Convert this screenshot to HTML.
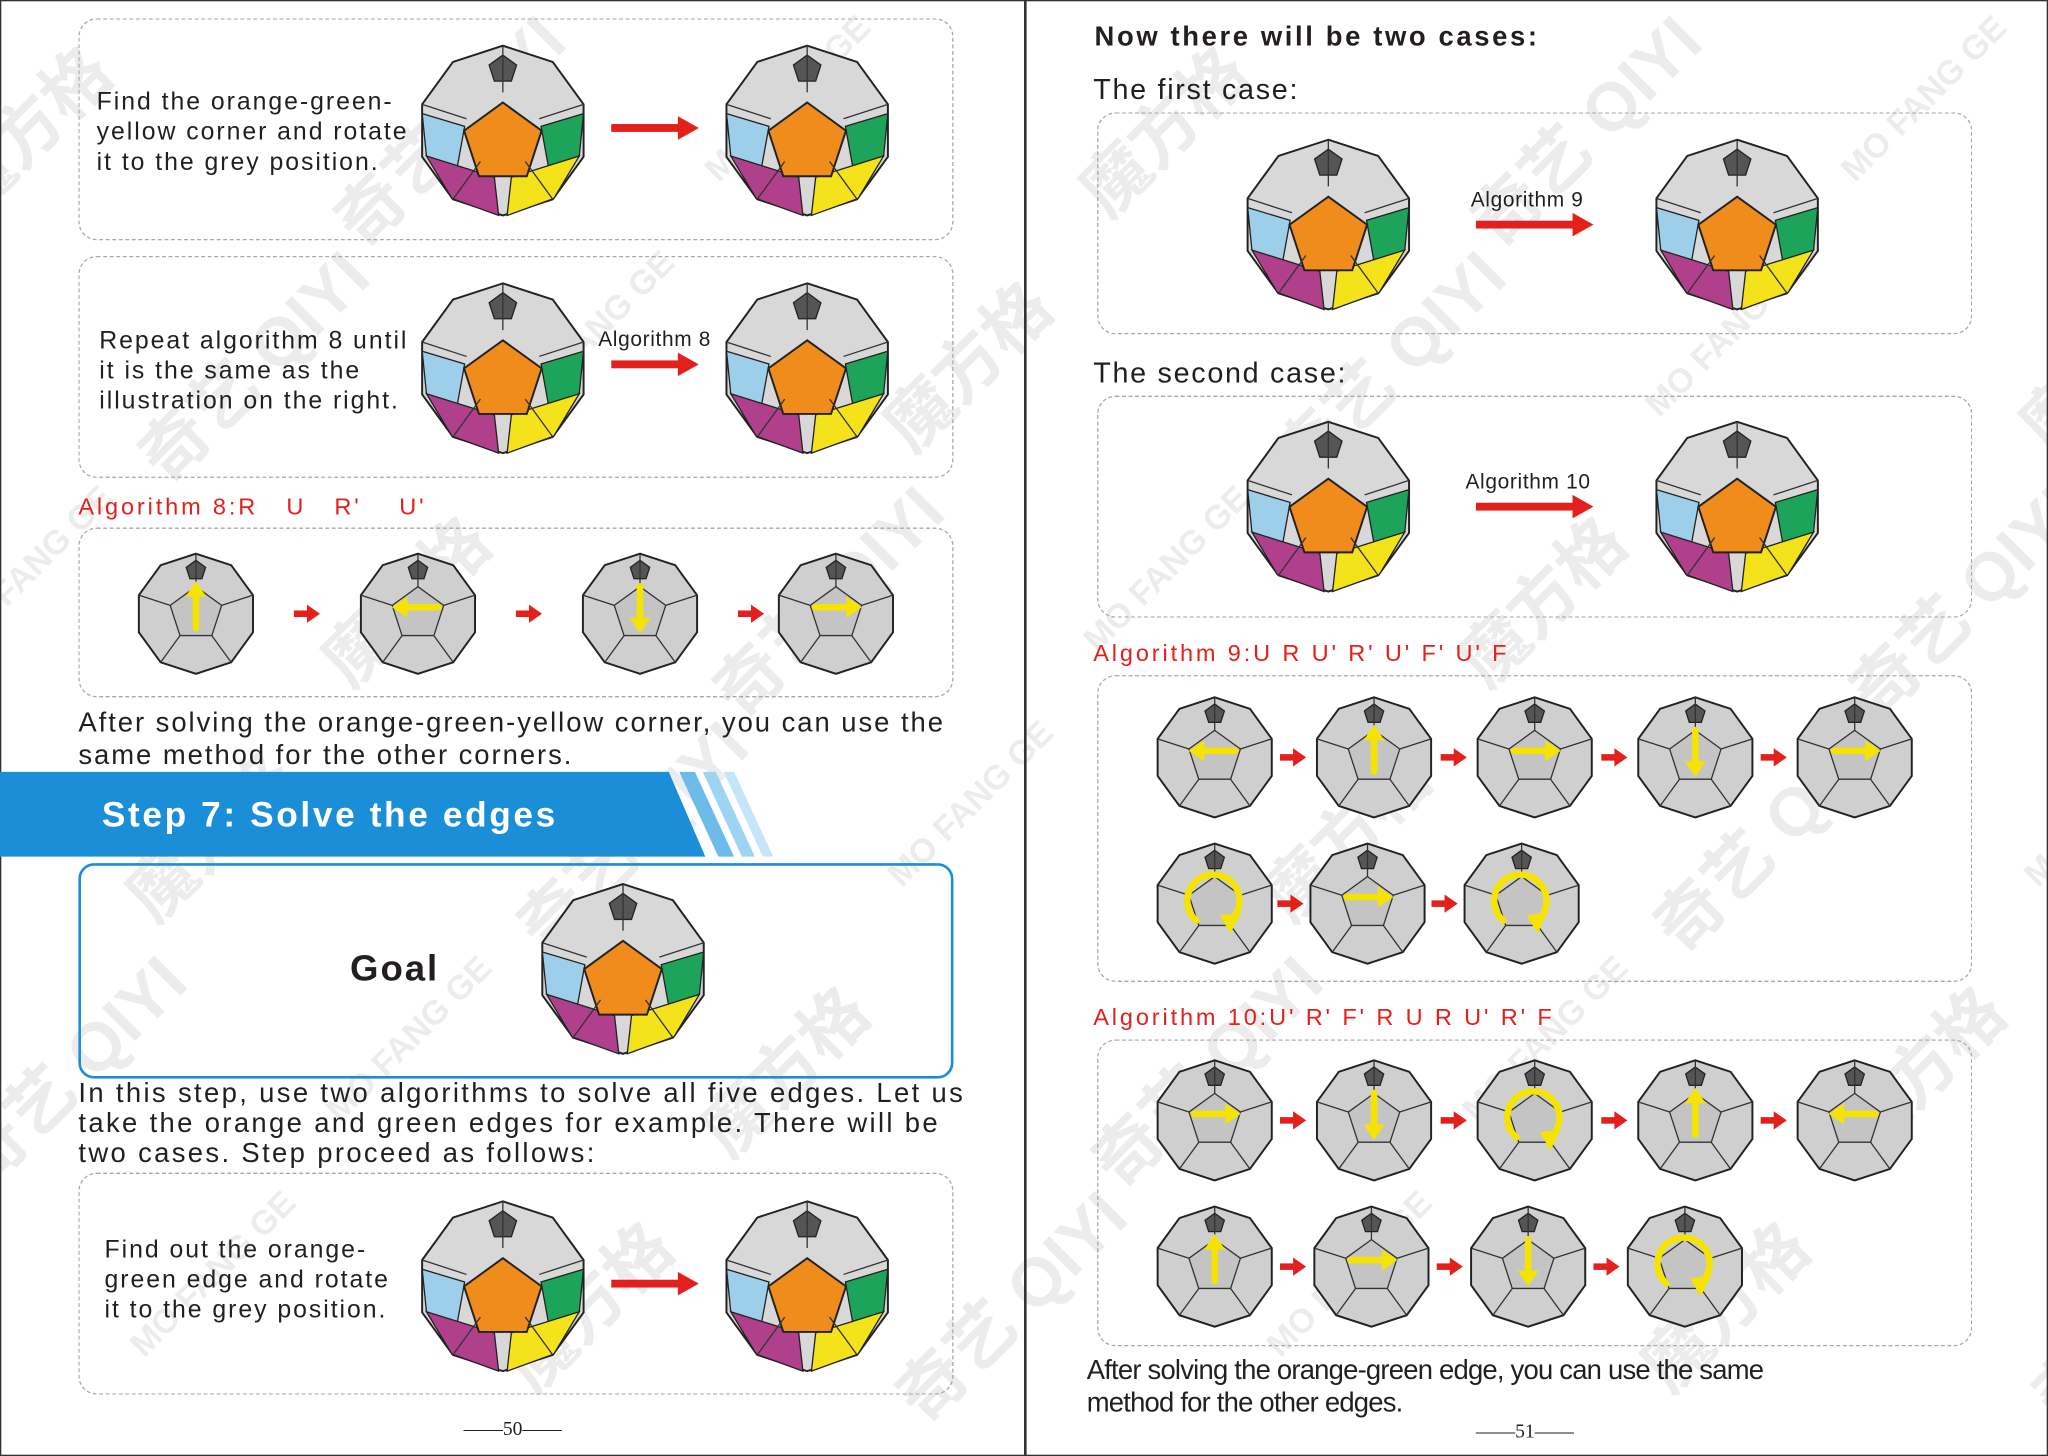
<!DOCTYPE html>
<html><head><meta charset="utf-8">
<style>
html,body{margin:0;padding:0;background:#fff;overflow:hidden;}
#wrap{width:2048px;height:1456px;overflow:hidden;position:relative;}
#page{position:absolute;left:0;top:0;width:1568px;height:1115px;overflow:hidden;transform:scale(1.30612,1.30583);transform-origin:0 0;font-family:"Liberation Sans",Arial,sans-serif;color:#231f20;}
.box{position:absolute;border:1.5px dashed #a8a8a8;border-radius:14px;box-sizing:border-box;}
.t{position:absolute;font-size:19px;line-height:23px;white-space:nowrap;letter-spacing:1.5px;}
.red{color:#e3201b;font-size:18px;letter-spacing:2.2px;}
#wms{position:absolute;left:0;top:0;width:1568px;height:1115px;overflow:hidden;}
.wm{position:absolute;color:rgba(150,150,150,0.18);font-weight:bold;white-space:nowrap;transform:rotate(-45deg);font-family:"Liberation Sans","Noto Sans CJK SC",sans-serif;}
</style></head><body>
<div id="wrap"><div id="page">
<div id="wms"></div>
<div style="position:absolute;left:0;top:0;width:1566px;height:1113px;border:1px solid #333;"></div>
<div style="position:absolute;left:784px;top:0;width:1.5px;height:1115px;background:#333;"></div>

<div class="box" style="left:60px;top:14px;width:670px;height:170px;"></div>
<div class="t" style="left:74px;top:67px;">Find the orange-green-<br>yellow corner and rotate<br>it to the grey position.</div>
<div class="box" style="left:60px;top:196px;width:670px;height:170px;"></div>
<div class="t" style="left:76px;top:250px;">Repeat algorithm 8 until<br>it is the same as the<br>illustration on the right.</div>
<div class="t" style="left:458px;top:249px;font-size:16px;letter-spacing:0.5px;">Algorithm 8</div>
<div class="t red" style="left:60px;top:377px;">Algorithm 8:R&nbsp;&nbsp;&nbsp;U&nbsp;&nbsp;&nbsp;R'&nbsp;&nbsp;&nbsp;&nbsp;U'</div>
<div class="box" style="left:60px;top:404px;width:670px;height:130px;"></div>
<div class="t" style="left:60px;top:541px;font-size:21px;line-height:25px;">After solving the orange-green-yellow corner, you can use the<br>same method for the other corners.</div>

<svg style="position:absolute;left:0;top:591px" width="600" height="66">
<polygon points="0,0 512,0 540,65 0,65" fill="#1a8fd8"/>
<polygon points="520,0 532,0 562,65 550,65" fill="#6cbbe9"/>
<polygon points="538,0 548,0 578,65 568,65" fill="#9fd3f2"/>
<polygon points="554,0 562,0 592,65 584,65" fill="#c6e5f8"/>
</svg>
<div class="t" style="left:78px;top:609px;font-size:27px;line-height:30px;color:#fff;font-weight:bold;letter-spacing:2px;">Step 7: Solve the edges</div>
<div style="position:absolute;left:60px;top:661px;width:670px;height:165px;border:2px solid #1a8fd8;border-radius:12px;box-sizing:border-box;"></div>
<div class="t" style="left:268px;top:727px;font-size:28px;line-height:30px;font-weight:bold;">Goal</div>
<div class="t" style="left:60px;top:826px;font-size:21px;line-height:23px;letter-spacing:1.8px;">In this step, use two algorithms to solve all five edges. Let us<br>take the orange and green edges for example. There will be<br>two cases. Step proceed as follows:</div>
<div class="box" style="left:60px;top:898px;width:670px;height:170px;"></div>
<div class="t" style="left:80px;top:946px;">Find out the orange-<br>green edge and rotate<br>it to the grey position.</div>
<div class="t" style="left:355px;top:1084px;font-size:15px;font-family:'Liberation Serif',serif;letter-spacing:0;">——50——</div>

<div class="t" style="left:838px;top:17px;font-size:21px;font-weight:bold;letter-spacing:2px;">Now there will be two cases:</div>
<div class="t" style="left:837px;top:57px;font-size:22px;letter-spacing:1.3px;">The first case:</div>
<div class="box" style="left:840px;top:86px;width:670px;height:170px;"></div>
<div class="t" style="left:1126px;top:142px;font-size:16px;letter-spacing:0.5px;">Algorithm 9</div>
<div class="t" style="left:837px;top:274px;font-size:22px;letter-spacing:1.3px;">The second case:</div>
<div class="box" style="left:840px;top:303px;width:670px;height:170px;"></div>
<div class="t" style="left:1122px;top:358px;font-size:16px;letter-spacing:0.5px;">Algorithm 10</div>
<div class="t red" style="left:837px;top:489px;">Algorithm 9:U R U' R' U' F' U' F</div>
<div class="box" style="left:840px;top:517px;width:670px;height:235px;"></div>
<div class="t red" style="left:837px;top:768px;">Algorithm 10:U' R' F' R U R U' R' F</div>
<div class="box" style="left:840px;top:796px;width:670px;height:235px;"></div>
<div class="t" style="left:832px;top:1037px;font-size:21px;line-height:25px;letter-spacing:-0.6px;">After solving the orange-green edge, you can use the same<br>method for the other edges.</div>
<div class="t" style="left:1130px;top:1086px;font-size:15px;font-family:'Liberation Serif',serif;letter-spacing:0;">——51——</div>

<svg id="art" style="position:absolute;left:0;top:0" width="1568" height="1115"></svg>
</div></div>
<script>
const colorCubes=[[385,100],[618,100],[385,282],[618,282],[477,742],[385,985],[618,985],[1017,172],[1330,172],[1017,388],[1330,388]];
const grayCubes=[[150,470,'u'],[320,470,'l'],[490,470,'d'],[640,470,'r'],
[930,580,'l'],[1052,580,'u'],[1175,580,'r'],[1298,580,'d'],[1420,580,'r'],
[930,692,'c'],[1047,692,'r'],[1165,692,'c'],
[930,858,'r'],[1052,858,'d'],[1175,858,'c'],[1298,858,'u'],[1420,858,'l'],
[930,970,'u'],[1050,970,'r'],[1170,970,'d'],[1290,970,'c']];
const bigArrows=[[468,535,98],[468,535,279],[468,535,983],[1130,1220,172],[1130,1220,388]];
const smallArrows=[[235,470],[405,470],[575,470],[990,580],[1113,580],[1236,580],[1358,580],[988,692],[1106,692],[990,858],[1113,858],[1236,858],[1358,858],[990,970],[1110,970],[1230,970]];
const svg=document.getElementById('art');const NS='http://www.w3.org/2000/svg';
function el(t,a,p){const e=document.createElementNS(NS,t);for(const k in a)e.setAttribute(k,a[k]);(p||svg).appendChild(e);return e;}
function pts(cx,cy,r,n,rot){let s=[];for(let i=0;i<n;i++){const a=rot+i*2*Math.PI/n;s.push((cx+r*Math.cos(a)).toFixed(1)+','+(cy+r*Math.sin(a)).toFixed(1));}return s.join(' ');}
function cube(x,y,r,colored,name){
  const g=el('g',{});
  
  
  el('polygon',{points:pts(x,y,r,10,-Math.PI/2),fill:colored?'#d8d8d8':'#cfcfcf',stroke:'#222','stroke-width':1.5},g);
  if(colored){
    el('polygon',{points:`${x-r*0.95},${y-r*0.2} ${x-r*0.45},${y-r*0.05} ${x-r*0.55},${y+r*0.5} ${x-r*0.9},${y+r*0.3}`,fill:'#9dcfea',stroke:'#222'},g);
    el('polygon',{points:`${x+r*0.95},${y-r*0.2} ${x+r*0.45},${y-r*0.05} ${x+r*0.55},${y+r*0.5} ${x+r*0.9},${y+r*0.3}`,fill:'#1ea35a',stroke:'#222'},g);
    el('polygon',{points:`${x-r*0.9},${y+r*0.3} ${x-r*0.1},${y+r*0.55} ${x-r*0.05},${y+r} ${x-r*0.6},${y+r*0.8}`,fill:'#b0408c',stroke:'#222'},g);
    el('polygon',{points:`${x+r*0.9},${y+r*0.3} ${x+r*0.1},${y+r*0.55} ${x+r*0.05},${y+r} ${x+r*0.6},${y+r*0.8}`,fill:'#f4e21a',stroke:'#222'},g);
    el('polygon',{points:pts(x,y+r*0.15,r*0.48,5,-Math.PI/2),fill:'#f08c1c',stroke:'#222','stroke-width':1.5},g);
  } else {
    el('polygon',{points:pts(x,y,r*0.45,5,-Math.PI/2),fill:'#c4c4c4',stroke:'#333'},g);
  }
  el('polygon',{points:pts(x,y-r*0.72,r*0.17,5,-Math.PI/2),fill:'#555',stroke:'#222'},g);
  for(let i=0;i<5;i++){const a=-Math.PI/2+i*2*Math.PI/5;el('line',{x1:x+r*0.45*Math.cos(a),y1:y+r*0.45*Math.sin(a),x2:x+r*Math.cos(a),y2:y+r*Math.sin(a),stroke:'#333','stroke-width':1},g);}
  return g;
}
colorCubes.forEach((c,i)=>cube(c[0],c[1],65,true,'megaminx-'+i));
grayCubes.forEach((c,i)=>{
  const g=cube(c[0],c[1],46,false,'move-step-'+i);
  const x=c[0],y=c[1]-5,st={stroke:'#f5e400','stroke-width':5,fill:'none','stroke-linecap':'round'};
  if(c[2]=='c'){el('path',Object.assign({d:`M${x-14},${y+18} A20,20 0 1 1 ${x+12},${y+18}`},st),g);el('polygon',{points:`${x+4},${y+14} ${x+20},${y+12} ${x+12},${y+28}`,fill:'#f5e400'},g);}
  else{const d={u:[0,-1],d:[0,1],l:[-1,0],r:[1,0]}[c[2]];
    el('line',Object.assign({x1:x-d[0]*16,y1:y-d[1]*16,x2:x+d[0]*10,y2:y+d[1]*10},st),g);
    const tx=x+d[0]*20,ty=y+d[1]*20;
    el('polygon',{points:`${tx},${ty} ${tx-d[0]*12-d[1]*8},${ty-d[1]*12-d[0]*8} ${tx-d[0]*12+d[1]*8},${ty-d[1]*12+d[0]*8}`,fill:'#f5e400'},g);}
});
bigArrows.forEach((a,i)=>{const g=el('g',{});
  el('rect',{x:a[0],y:a[2]-3,width:a[1]-a[0]-14,height:6,fill:'#e3201b'},g);el('polygon',{points:`${a[1]-16},${a[2]-9} ${a[1]},${a[2]} ${a[1]-16},${a[2]+9}`,fill:'#e3201b'},g);});
smallArrows.forEach(a=>{const g=el('g',{});
  el('rect',{x:a[0]-10,y:a[1]-2.5,width:12,height:5,fill:'#e3201b'},g);el('polygon',{points:`${a[0]},${a[1]-7} ${a[0]+10},${a[1]} ${a[0]},${a[1]+7}`,fill:'#e3201b'},g);});
const wmText=['魔方格','奇艺 QIYI','MO FANG GE'];
const w=document.getElementById('wms');
for(let r=0;r<6;r++)for(let c=0;c<6;c++){const d=document.createElement('div');d.className='wm';
  
  
  d.textContent=wmText[(r+c)%3];d.style.left=(c*290-60+(r%2)*140)+'px';d.style.top=(r*180+60)+'px';d.style.fontSize=((r+c)%3==2?26:52)+'px';w.appendChild(d);}
</script>
</body></html>
